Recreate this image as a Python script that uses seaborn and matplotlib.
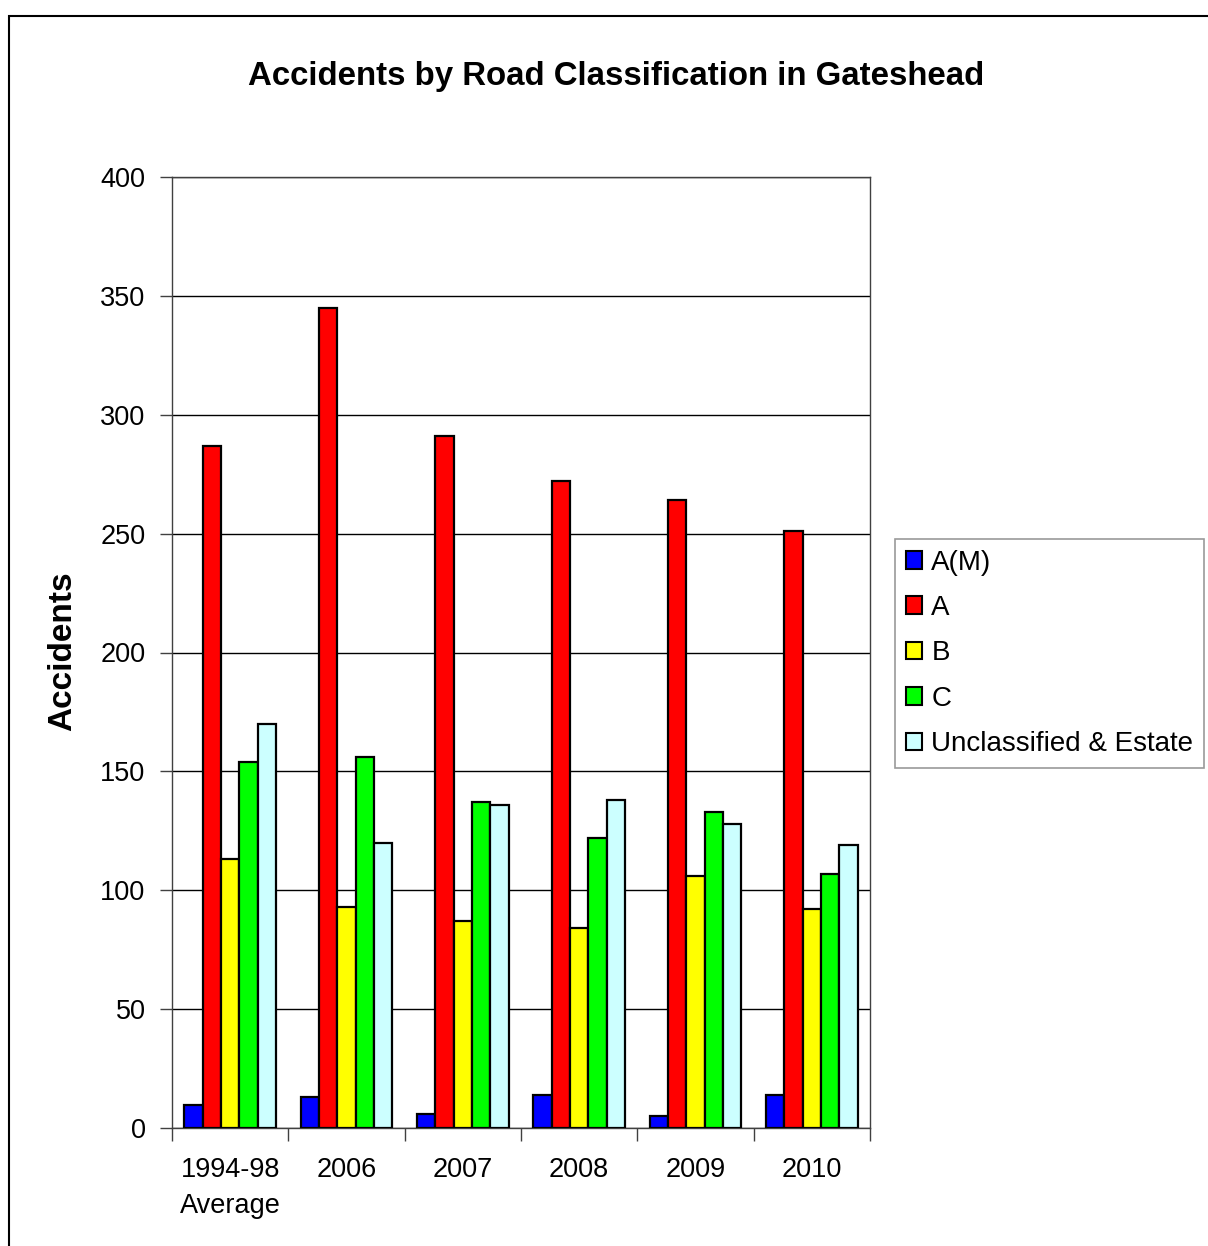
import matplotlib
matplotlib.use("Agg")
import matplotlib.pyplot as plt
import matplotlib.patches as mpatches
import seaborn as sns
import pandas as pd
import numpy as np

categories = ["1994-98\nAverage", "2006", "2007", "2008", "2009", "2010"]
series_names = ["A(M)", "A", "B", "C", "Unclassified & Estate"]
am_vals = [9.5, 13, 6, 14, 5, 14]
a_vals = [287, 345, 291, 272, 264, 251]
b_vals = [113, 93, 87, 84, 106, 92]
c_vals = [154, 156, 137, 122, 133, 107]
u_vals = [170, 120, 136, 138, 128, 119]
colors = ["#0000FF", "#FF0000", "#FFFF00", "#00FF00", "#CCFFFF"]
y_ticks = [0, 50, 100, 150, 200, 250, 300, 350, 400]

rows = []
for name, vals in zip(series_names, [am_vals, a_vals, b_vals, c_vals, u_vals]):
    for cat, v in zip(categories, vals):
        rows.append({"Year": cat, "Road": name, "Accidents": v})
df = pd.DataFrame(rows)

sns.set_theme(style="white")
plt.rcParams['font.family'] = ['Liberation Sans', 'DejaVu Sans']
plt.rcParams['text.color'] = 'black'
plt.rcParams['xtick.color'] = 'black'
plt.rcParams['ytick.color'] = 'black'
plt.rcParams['axes.labelcolor'] = 'black'

fig = plt.figure(figsize=(12.08, 12.46), dpi=100)
ax = fig.add_axes([172/1208, 1 - 1128/1246, (870-172)/1208, (1128-177)/1246])

sns.barplot(data=df, x="Year", y="Accidents", hue="Road", order=categories,
            hue_order=series_names, palette=colors, width=0.79, gap=0,
            edgecolor="black", linewidth=1.6, saturation=1, ax=ax, legend=False, zorder=3)

ax.set_ylim(0, 400)
ax.set_xlim(-0.5, len(categories) - 0.5)
ax.set_yticks(y_ticks)
ax.set_yticklabels([str(t) for t in y_ticks], fontsize=19.5)
ax.yaxis.grid(True, color="black", linewidth=1.0, zorder=0)
ax.set_axisbelow(True)
ax.set_xticks(range(len(categories)))
ax.set_xticklabels(categories, fontsize=19.5, linespacing=1.48)
ax.set_xticks(np.arange(-0.5, len(categories), 1.0), minor=True)
ax.tick_params(axis="x", which="major", length=0, pad=21)
ax.tick_params(axis="x", which="minor", length=9, width=1.0, color="#404040", direction="out", bottom=True)
ax.tick_params(axis="y", length=9, width=1.0, color="#404040", direction="out", left=True, labelcolor="black", pad=10)
ax.set_xlabel("")
ax.set_ylabel("")
for sp in ax.spines.values():
    sp.set_color("#404040")
    sp.set_linewidth(1.0)

fig.text(63/1208, 1 - 651/1246, "Accidents", rotation=90, ha="center", va="center",
         fontsize=24, fontweight="bold", color="black")
fig.text(616/1208, 1 - 76/1246, "Accidents by Road Classification in Gateshead",
         ha="center", va="center", fontsize=23.8, fontweight="bold", color="black")

handles = [mpatches.Patch(facecolor=c, edgecolor="black", linewidth=1.5, label=n)
           for c, n in zip(colors, series_names)]
leg = fig.legend(handles=handles, loc="upper left", bbox_to_anchor=(895/1208, 1 - 539/1246),
                 fontsize=20, frameon=True, fancybox=False, handlelength=0.6, handleheight=0.6,
                 handletextpad=0.33, labelspacing=0.70, borderpad=0.38, borderaxespad=0)
leg.get_frame().set_edgecolor("#808080")
leg.get_frame().set_linewidth(1.2)

border = mpatches.Rectangle((9/1208, -0.05), 1.2, 1 - 16/1246 + 0.05, transform=fig.transFigure,
                            fill=False, edgecolor="black", linewidth=1.5)
fig.patches.append(border)

fig.savefig("out.png", dpi=100)
